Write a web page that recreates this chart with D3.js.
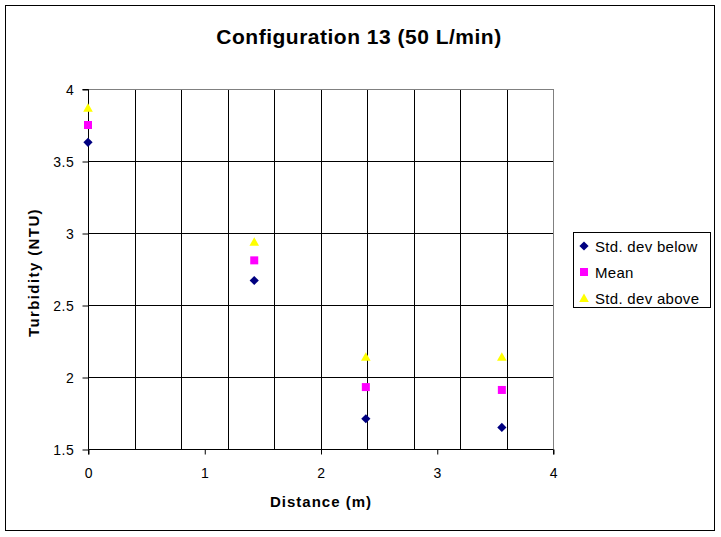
<!DOCTYPE html>
<html><head><meta charset="utf-8">
<script src="https://cdn.jsdelivr.net/npm/d3@7"></script>
<style>body{margin:0;background:#fff;} svg{display:block;}</style>
</head><body>
<script>
const distance = [0, 1.43, 2.39, 3.56];
const stdBelow = [3.63, 2.67, 1.71, 1.65];
const mean = [3.75, 2.81, 1.93, 1.91];
const stdAbove = [3.87, 2.94, 2.14, 2.14];
const seriesNames = ["Std. dev below", "Mean", "Std. dev above"];
const xTicks = [0, 1, 2, 3, 4];
const yTicks = [1.5, 2, 2.5, 3, 3.5, 4];
const xGrid = [0.4, 0.8, 1.2, 1.6, 2, 2.4, 2.8, 3.2, 3.6];

const W = 721, H = 537;
const svg = d3.select("body").append("svg").attr("width", W).attr("height", H);
const font = "Arial, 'Liberation Sans', sans-serif";
svg.append("rect").attr("x", 5.5).attr("y", 5.5).attr("width", 709).attr("height", 525)
  .attr("fill", "#fff").attr("stroke", "#000").attr("stroke-width", 1);

const L = 88, R = 553, T = 89, B = 449;
const x = d3.scaleLinear().domain([0, 4]).range([L, R]);
const y = d3.scaleLinear().domain([1.5, 4]).range([B, T]);

const g = svg.append("g");
g.selectAll(".vg").data(xGrid).enter().append("line")
  .attr("x1", d => Math.round(x(d)) + 0.5).attr("x2", d => Math.round(x(d)) + 0.5)
  .attr("y1", T).attr("y2", B).attr("stroke", "#000");
g.selectAll(".hg").data(yTicks.filter(d => d > 1.5 && d < 4)).enter().append("line")
  .attr("y1", d => Math.round(y(d)) + 0.5).attr("y2", d => Math.round(y(d)) + 0.5)
  .attr("x1", L).attr("x2", R).attr("stroke", "#000");
g.append("line").attr("x1", L).attr("x2", R + 0.5).attr("y1", T + 0.5).attr("y2", T + 0.5).attr("stroke", "#808080");
g.append("line").attr("x1", R + 0.5).attr("x2", R + 0.5).attr("y1", T).attr("y2", B).attr("stroke", "#808080");

const xAxis = d3.axisBottom(x).tickValues(xTicks).tickSize(5).tickPadding(0).tickFormat(d3.format("d"));
const yAxis = d3.axisLeft(y).tickValues(yTicks).tickSize(6).tickPadding(8).tickFormat(d => String(d));
const gx = svg.append("g").attr("transform", `translate(0.5,${B + 0.5})`).call(xAxis);
const gy = svg.append("g").attr("transform", `translate(${L + 0.5},0.5)`).call(yAxis);
[gx, gy].forEach(a => {
  a.select(".domain").attr("stroke", "#000");
  a.selectAll(".tick line").attr("stroke", "#000");
  a.selectAll("text").attr("font-family", font).attr("font-size", 14).attr("fill", "#000")
    .attr("letter-spacing", 0.6);
});
gx.selectAll(".tick text").attr("y", 28.5).attr("dy", null);
gy.selectAll(".tick text").attr("dy", "0.36em");
gy.select(".domain").attr("d", `M-6,${T}H0V${B}`);
gx.select(".domain").attr("d", `M${L},5V0H${R}V5`);

svg.append("text").attr("x", 359).attr("y", 43.5).attr("text-anchor", "middle")
  .attr("font-family", font).attr("font-weight", "bold").attr("font-size", 21)
  .attr("letter-spacing", 0.5).text("Configuration 13 (50 L/min)");
svg.append("text").attr("x", 321).attr("y", 507).attr("text-anchor", "middle")
  .attr("font-family", font).attr("font-weight", "bold").attr("font-size", 15)
  .attr("letter-spacing", 1).text("Distance (m)");
svg.append("text").attr("transform", `translate(38.5,272.5) rotate(-90)`).attr("text-anchor", "middle")
  .attr("font-family", font).attr("font-weight", "bold").attr("font-size", 15)
  .attr("letter-spacing", 1.4).text("Turbidity (NTU)");

const diamondType = {draw(c) { const r = 4.6; c.moveTo(0, -r); c.lineTo(r, 0); c.lineTo(0, r); c.lineTo(-r, 0); c.closePath(); }};
const squareType = {draw(c) { const h = 4; c.rect(-h, -h, 2 * h, 2 * h); }};
const triangleType = {draw(c) { c.moveTo(0, -4.5); c.lineTo(4.8, 4); c.lineTo(-4.8, 4); c.closePath(); }};
const series = [
  {vals: stdBelow, sym: d3.symbol().type(diamondType), color: "#000080"},
  {vals: mean, sym: d3.symbol().type(squareType), color: "#FF00FF"},
  {vals: stdAbove, sym: d3.symbol().type(triangleType), color: "#FFFF00"}
];
series.forEach(s => {
  svg.append("g").selectAll("path").data(distance).enter().append("path")
    .attr("d", s.sym)
    .attr("transform", (d, i) => `translate(${x(d)},${y(s.vals[i])})`)
    .attr("fill", s.color);
});

const lg = svg.append("g");
lg.append("rect").attr("x", 573.5).attr("y", 232.5).attr("width", 137).attr("height", 75)
  .attr("fill", "#fff").attr("stroke", "#000");
series.forEach((s, i) => {
  const cy = 246 + i * 26;
  lg.append("path").attr("d", s.sym).attr("transform", `translate(584,${cy})`).attr("fill", s.color);
  lg.append("text").attr("x", 595).attr("y", cy + 5.5).attr("font-family", font).attr("font-size", 15)
    .attr("letter-spacing", 0.3).text(seriesNames[i]);
});
</script>
</body></html>
